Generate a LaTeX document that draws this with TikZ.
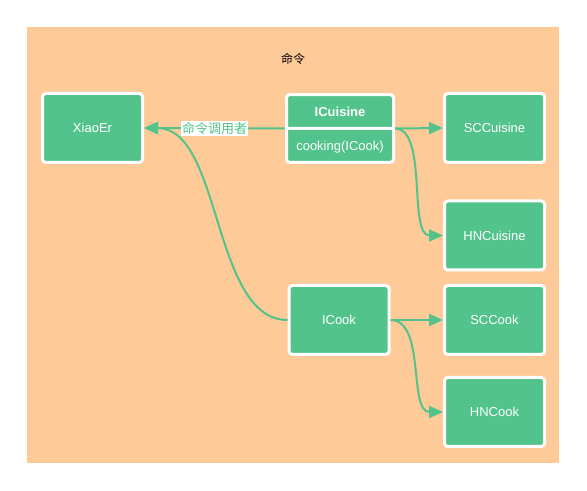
\documentclass[tikz,border=0pt]{standalone}
\usepackage{fontspec}
\setmainfont{Liberation Sans}
\newfontfamily\cjk{Noto Sans CJK SC}
\usepackage{tikz}
\usetikzlibrary{arrows.meta,shapes.multipart}
\definecolor{cmdBg}{HTML}{FECA98}
\definecolor{cmdGreen}{HTML}{52C48B}
\newcommand\partstrut{\rule[-2pt]{0pt}{11pt}}
\tikzset{
  cls/.style={draw=white,line width=2.25pt,fill=cmdGreen,rounded corners=2.5pt,
    minimum width=75pt,minimum height=51.75pt,align=center,inner sep=2pt,
    text=white,font=\fontsize{9.75}{11}\selectfont},
  iface/.style={cls,rectangle split,rectangle split parts=2,minimum width=80.25pt,
    minimum height=0pt,inner ysep=6.1pt},
  link/.style={-{Triangle[length=10.5pt,width=9pt]},line width=1.5pt,cmdGreen},
  lbl/.style={fill=white,inner sep=1pt,text=cmdGreen,font=\cjk\fontsize{9.75}{11}\selectfont}
}

\begin{document}
\begin{tikzpicture}[x=0.75pt,y=-0.75pt]
  \useasboundingbox (0,0) rectangle (587,491);
  \fill[cmdBg] (27,27) rectangle (559,463);
  \node[font=\cjk\fontsize{9}{11}\selectfont] (title) at (293,59) {命令};
  % classes
  \node[cls] (xiaoer) at (92.5,128) {XiaoEr};
  \node[iface] (icuisine) at (340,128.5)
       {\textbf{ICuisine}\partstrut\nodepart{two}cooking(ICook)\partstrut};
  \node[cls] (sccuisine) at (494.5,128) {SCCuisine};
  \node[cls] (hncuisine) at (494.5,235.5) {HNCuisine};
  \node[cls] (icook) at (339,320) {ICook};
  \node[cls] (sccook) at (494.5,320) {SCCook};
  \node[cls] (hncook) at (494.5,412) {HNCook};
  % relations
  \draw[link] (icuisine.west) -- node[lbl] (invoker) {命令调用者} (xiaoer.east);
  \draw[link] (icook.west) .. controls (212,320) and (222,128) .. (xiaoer.east);
  \draw[link] (icuisine.east) -- (sccuisine.west);
  \draw[link] (icuisine.east) .. controls (428,128.5) and (408,235.5) .. (hncuisine.west);
  \draw[link] (icook.east) -- (sccook.west);
  \draw[link] (icook.east) .. controls (426,320) and (408,412) .. (hncook.west);
\end{tikzpicture}
\end{document}
